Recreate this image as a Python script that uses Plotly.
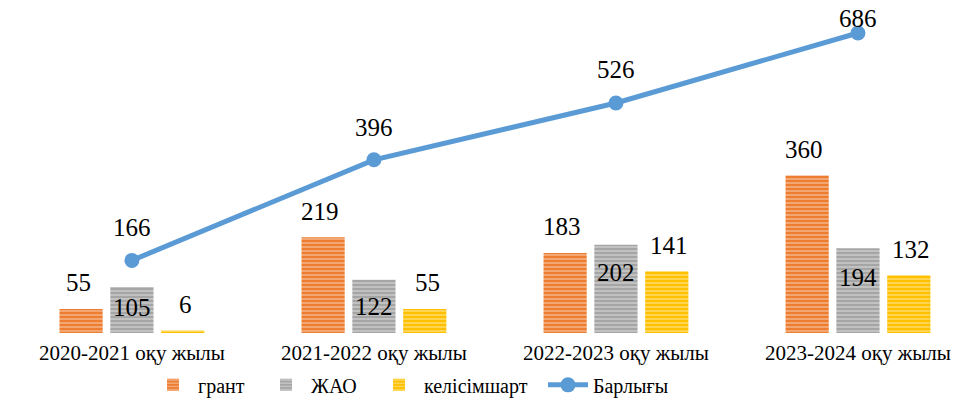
import plotly.graph_objects as go

categories = ["2020-2021 оқу жылы", "2021-2022 оқу жылы", "2022-2023 оқу жылы", "2023-2024 оқу жылы"]
grant = [55, 219, 183, 360]
zhao = [105, 122, 202, 194]
kelisim = [6, 55, 141, 132]
total = [166, 396, 526, 686]

series_names = ["грант", "ЖАО", "келісімшарт", "Барлығы"]

colors = {"грант": "#ED7D31", "ЖАО": "#A5A5A5", "келісімшарт": "#FFC000", "Барлығы": "#5B9BD5"}
FONT = "Liberation Serif, Times New Roman, serif"
legend_ids = ["legend", "legend2", "legend3", "legend4"]
legend_x = [152, 265, 378, 547]

fig = go.Figure()
for k, (name, vals) in enumerate(zip(series_names[:3], [grant, zhao, kelisim])):
    fig.add_trace(go.Bar(
        x=categories, y=vals, name=name, legend=legend_ids[k],
        marker=dict(color=colors[name], line=dict(width=0),
                    pattern=dict(shape="-", fgcolor="white", fgopacity=0.45,
                                 size=4, solidity=0.35)),
    ))

fig.add_trace(go.Scatter(
    x=categories, y=total, name=series_names[3], mode="lines+markers",
    legend=legend_ids[3],
    line=dict(color=colors["Барлығы"], width=5),
    marker=dict(color=colors["Барлығы"], size=15),
))

ann = []
lab_font = dict(family=FONT, size=25, color="black")
# labels above grant and келісімшарт bars
for vals, off in [(grant, -1), (kelisim, 1)]:
    for i, v in enumerate(vals):
        ann.append(dict(x=categories[i], y=v, text=str(v), showarrow=False,
                        xref="x", yref="y", yshift=26, yanchor="middle",
                        xshift=off * 53.5, font=lab_font))
# labels inside ЖАО bars
zhao_shift = [-20, -27, -28, -29]
for i, v in enumerate(zhao):
    ann.append(dict(x=categories[i], y=v, text=str(v), showarrow=False,
                    xref="x", yref="y", yshift=zhao_shift[i], yanchor="middle",
                    font=lab_font))
# labels above total line
total_shift = [33, 32, 33, 14]
for i, v in enumerate(total):
    ann.append(dict(x=categories[i], y=v, text=str(v), showarrow=False,
                    xref="x", yref="y", yshift=total_shift[i], yanchor="middle",
                    font=lab_font))

layout_legends = {}
for lid, lx in zip(legend_ids, legend_x):
    layout_legends[lid] = dict(orientation="h", xanchor="left", y=-0.158, yanchor="middle",
                               font=dict(family=FONT, size=20, color="black"),
                               itemwidth=40, bgcolor="rgba(0,0,0,0)",
                               x=(lx - 4) / 971)

fig.update_layout(
    width=971, height=403,
    margin=dict(l=0, r=0, t=5, b=70, autoexpand=False),
    paper_bgcolor="white", plot_bgcolor="white",
    barmode="group", bargap=0.37, bargroupgap=0.15,
    font=dict(family=FONT, size=20, color="black"),
    showlegend=True,
    annotations=ann,
    xaxis=dict(range=[-0.545, 3.467], showgrid=False, zeroline=False, showline=False,
               ticks="", ticklabelstandoff=5, tickfont=dict(family=FONT, size=21),
               automargin=False),
    yaxis=dict(range=[0, 750], visible=False, showgrid=False, automargin=False),
    **layout_legends,
)

fig.write_html("out.html", config={"displayModeBar": False},
               post_script="document.body.style.margin='0';")
